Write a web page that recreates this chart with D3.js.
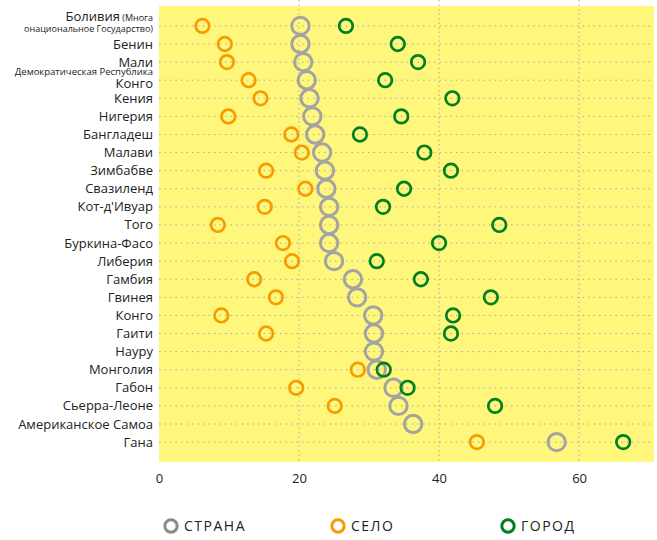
<!DOCTYPE html>
<html>
<head>
<meta charset="utf-8">
<script src="https://cdn.jsdelivr.net/npm/d3@7"></script>
<style>
  body { margin: 0; background: #fff; }
  svg text { font-family: "Open Sans", "DejaVu Sans", sans-serif; fill: #222; }
</style>
</head>
<body>
<div id="chart"></div>
<script>

// data
var countries = ["Боливия", "Бенин", "Мали", "Демократическая Республика Конго", "Кения", "Нигерия",
  "Бангладеш", "Малави", "Зимбабве", "Свазиленд", "Кот-д'Ивуар", "Того", "Буркина-Фасо",
  "Либерия", "Гамбия", "Гвинея", "Конго", "Гаити", "Науру", "Монголия", "Габон",
  "Сьерра-Леоне", "Американское Самоа", "Гана"];

var strana = [20.2, 20.2, 20.6, 21.1, 21.5, 21.9, 22.3, 23.3, 23.7, 23.9, 24.3, 24.3, 24.3,
  25.0, 27.7, 28.3, 30.6, 30.7, 30.7, 31.1, 33.5, 34.2, 36.3, 56.8];
var selo = [6.2, 9.4, 9.7, 12.8, 14.5, 9.9, 18.9, 20.4, 15.3, 20.9, 15.1, 8.4, 17.7,
  19.0, 13.6, 16.7, 8.9, 15.3, null, 28.4, 19.6, 25.1, null, 45.4];
var gorod = [26.7, 34.1, 37.0, 32.3, 41.9, 34.6, 28.7, 37.9, 41.7, 35.0, 32.0, 48.6, 40.0,
  31.1, 37.4, 47.4, 42.0, 41.7, null, 32.1, 35.5, 48.0, null, 66.3];

var xTicks = [0, 20, 40, 60];

var width = 657, height = 540;
var plotLeft = 159, plotRight = 654, plotTop = 6, plotBottom = 462;

var svg = d3.select("#chart").append("svg")
    .attr("width", width)
    .attr("height", height);

var x = d3.scaleLinear().domain([0, 70.7]).range([plotLeft, plotRight]);
var y = d3.scalePoint().domain(countries).range([plotTop, plotBottom]).padding(1.1);

// background
svg.append("rect")
    .attr("x", plotLeft).attr("y", plotTop)
    .attr("width", plotRight - plotLeft).attr("height", plotBottom - plotTop)
    .style("fill", "#fff67c");

// horizontal dotted lines
svg.append("g")
    .selectAll("line")
    .data(countries)
    .enter().append("line")
    .attr("x1", plotLeft).attr("x2", plotRight)
    .attr("y1", function (d) { return y(d); })
    .attr("y2", function (d) { return y(d); })
    .style("stroke", "#aaa")
    .style("stroke-width", 1)
    .style("stroke-dasharray", "1.5,4");

// vertical dotted lines
svg.append("g")
    .selectAll("line")
    .data(xTicks.slice(1))
    .enter().append("line")
    .attr("x1", function (d) { return x(d); })
    .attr("x2", function (d) { return x(d); })
    .attr("y1", 0).attr("y2", plotBottom)
    .style("stroke", "#aaa")
    .style("stroke-width", 1)
    .style("stroke-dasharray", "1.5,3");

// x axis labels
svg.append("g")
    .attr("transform", "translate(0," + plotBottom + ")")
    .call(d3.axisBottom(x).tickValues(xTicks).tickSize(0).tickPadding(12))
    .call(function (g) { g.select(".domain").remove(); })
    .selectAll("text")
    .style("font-size", "13px")
    .style("fill", "#222");

// y labels
var labels = svg.append("g");
countries.forEach(function (c, i) {
    var yy = y(c);
    if (i === 0) {
        var t = labels.append("text")
            .attr("x", 153).attr("y", yy - 5)
            .style("text-anchor", "end");
        t.append("tspan").text("Боливия").style("font-size", "13px");
        t.append("tspan").text(" (Многа").style("font-size", "9px");
        labels.append("text")
            .attr("x", 153).attr("y", yy + 6)
            .style("text-anchor", "end")
            .style("font-size", "9px")
            .text("онациональное Государство)");
    } else if (i === 3) {
        labels.append("text")
            .attr("x", 153).attr("y", yy - 5)
            .style("text-anchor", "end")
            .style("font-size", "9.5px")
            .text("Демократическая Республика");
        labels.append("text")
            .attr("x", 153).attr("y", yy + 7.5)
            .style("text-anchor", "end")
            .style("font-size", "13px")
            .text("Конго");
    } else {
        labels.append("text")
            .attr("x", 153).attr("y", yy + 4.5)
            .style("text-anchor", "end")
            .style("font-size", "13px")
            .text(c);
    }
});

// dots
function dots(values, color, r, sw) {
    svg.append("g")
        .selectAll("circle")
        .data(values.map(function (v, i) { return { v: v, c: countries[i] }; })
            .filter(function (d) { return d.v !== null; }))
        .enter().append("circle")
        .attr("cx", function (d) { return x(d.v); })
        .attr("cy", function (d) { return y(d.c); })
        .attr("r", r)
        .style("fill", "none")
        .style("stroke", color)
        .style("stroke-width", sw);
}
dots(strana, "#a3a3a3", 8.7, 3);
dots(selo, "#f79c00", 6.8, 2.7);
dots(gorod, "#00801f", 6.8, 2.7);

// legend
var legend = [
    { name: "СТРАНА", color: "#8f8a84", x: 171 },
    { name: "СЕЛО", color: "#f79c00", x: 338 },
    { name: "ГОРОД", color: "#00801f", x: 508 }
];
var lg = svg.append("g");
legend.forEach(function (d) {
    lg.append("circle")
        .attr("cx", d.x).attr("cy", 526)
        .attr("r", 6.2)
        .style("fill", "none")
        .style("stroke", d.color)
        .style("stroke-width", 3);
    lg.append("text")
        .attr("x", d.x + 13).attr("y", 531)
        .style("font-size", "14px")
        .style("letter-spacing", "1.5px")
        .text(d.name);
});

</script>
</body>
</html>
